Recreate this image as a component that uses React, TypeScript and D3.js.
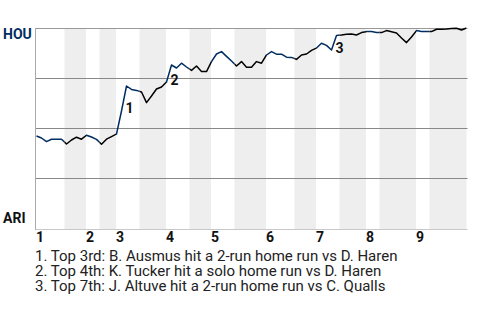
import React from "react";
import * as d3 from "d3";

// HOU win probability (%) after each play
const winProb = [
  46, 45, 43.2, 44.4, 44.4, 44.4, 42, 44, 45.4, 44.4,
  46.4, 45.5, 44.3, 41.9, 44.4, 45.7, 47, 58.5, 71, 69.3,
  68.8, 68, 62.7, 66, 69.5, 70.5, 73, 81.5, 80, 82.4,
  80.5, 78.8, 81, 78.2, 78.2, 83.2, 87, 88.2, 85.8, 83.5,
  81, 83.2, 80.4, 80.4, 83.2, 82.4, 86.5, 88.2, 86.9, 86.9,
  85.4, 85.3, 84.3, 86.5, 87, 88.8, 90, 92.4, 91.3, 89,
  96.3, 96.5, 96.9, 97, 96.5, 97.7, 98.2, 98.2, 97.7, 97.7,
  98.7, 98.1, 97.5, 95, 92.7, 95.5, 98.7, 98.2, 98.2, 98.2,
  99.4, 99.4, 99.5, 99.8, 99.9, 99, 100,
];

// play position where each half-inning begins (top 1st, bottom 1st, ...)
const halfInningStarts = [
  0, 5.7, 10, 12.7, 16, 20.7, 26, 30.7, 35, 39.7, 46, 51.7, 56, 60.7, 66, 68.7, 76, 78.7,
];
const gameEnd = 86;

const innings = ["1", "2", "3", "4", "5", "6", "7", "8", "9"];
const teams = ["HOU", "ARI"];
const gridLevels = [75, 50, 25];

const annotationPlays = [18, 27, 60];
const annotationLabels = ["1", "2", "3"];
const notes = [
  "1. Top 3rd: B. Ausmus hit a 2-run home run vs D. Haren",
  "2. Top 4th: K. Tucker hit a solo home run vs D. Haren",
  "3. Top 7th: J. Altuve hit a 2-run home run vs C. Qualls",
];

const W = 480;
const H = 320;
const plotLeft = 36;
const plotRight = 466.5;
const plotTop = 28;
const plotBottom = 228;
const NAVY = "#002D62";

const labelDy = [27, 20, 18];

export default function App() {
  const x = d3.scaleLinear().domain([0, gameEnd]).range([36.5, plotRight]);
  const y = d3.scaleLinear().domain([0, 100]).range([plotBottom, plotTop]);

  const line = d3
    .line<number>()
    .x((_, i) => x(i))
    .y((d) => y(d));
  const pathD = line(winProb) || "";

  const halves = halfInningStarts.map((s, i) => {
    const e = i + 1 < halfInningStarts.length ? halfInningStarts[i + 1] : gameEnd;
    const x0 = i === 0 ? plotLeft : x(s) - 0.5;
    const x1 = i === halfInningStarts.length - 1 ? plotRight : x(e) - 0.5;
    return { i, x0, x1, top: i % 2 === 0 };
  });

  return (
    <svg
      width={W}
      height={H}
      style={{ position: "absolute", left: 0, top: 0, background: "#fff" }}
      fontFamily="Roboto, 'Noto Sans', sans-serif"
    >
      <defs>
        {halves.map((h) => (
          <clipPath id={`half-${h.i}`} key={h.i}>
            <rect x={h.x0} y={0} width={h.x1 - h.x0} height={H} />
          </clipPath>
        ))}
      </defs>

      {/* bottom-half bands */}
      {halves
        .filter((h) => !h.top)
        .map((h) => (
          <rect
            key={h.i}
            x={h.x0}
            y={plotTop}
            width={h.x1 - h.x0}
            height={plotBottom + 1 - plotTop}
            fill="#eeeeee"
          />
        ))}

      {/* gridlines */}
      <line x1={plotLeft} x2={plotRight + 1} y1={y(100) + 0.5} y2={y(100) + 0.5} stroke="#999" strokeWidth={1} />
      {gridLevels.map((g) => (
        <line key={g} x1={plotLeft} x2={plotRight + 1} y1={y(g) + 0.5} y2={y(g) + 0.5} stroke="#888" strokeWidth={1} />
      ))}
      <line x1={plotLeft} x2={plotRight + 1} y1={plotBottom + 1.5} y2={plotBottom + 1.5} stroke="#c8c8c8" strokeWidth={1} />
      <line x1={plotLeft - 0.5} x2={plotLeft - 0.5} y1={plotTop} y2={plotBottom + 2} stroke="#aaa" strokeWidth={1} />

      {/* win probability line, coloured by half-inning */}
      {halves.map((h) => (
        <path
          key={h.i}
          d={pathD}
          fill="none"
          stroke={h.top ? NAVY : "#000"}
          strokeWidth={1.5}
          strokeLinejoin="round"
          clipPath={`url(#half-${h.i})`}
        />
      ))}

      {/* annotation markers */}
      {annotationPlays.map((p, k) => (
        <text
          key={k}
          x={x(p) - 1}
          y={y(winProb[p]) + labelDy[k]}
          fontSize={14}
          fontWeight="bold"
          fill="#111"
        >
          {annotationLabels[k]}
        </text>
      ))}

      {/* team labels */}
      <text x={3} y={39} fontSize={14} fontWeight="bold" fill={NAVY}>
        {teams[0]}
      </text>
      <text x={3} y={223} fontSize={14} fontWeight="bold" fill="#111">
        {teams[1]}
      </text>

      {/* inning labels */}
      {innings.map((lab, k) => (
        <text key={lab} x={x(halfInningStarts[k * 2]) - 0.5} y={242} fontSize={14} fontWeight="bold" fill="#111">
          {lab}
        </text>
      ))}

      {/* notes */}
      {notes.map((n, k) => (
        <text key={k} x={35} y={260.5 + k * 15} fontSize={15} fill="#222">
          {n}
        </text>
      ))}
    </svg>
  );
}
